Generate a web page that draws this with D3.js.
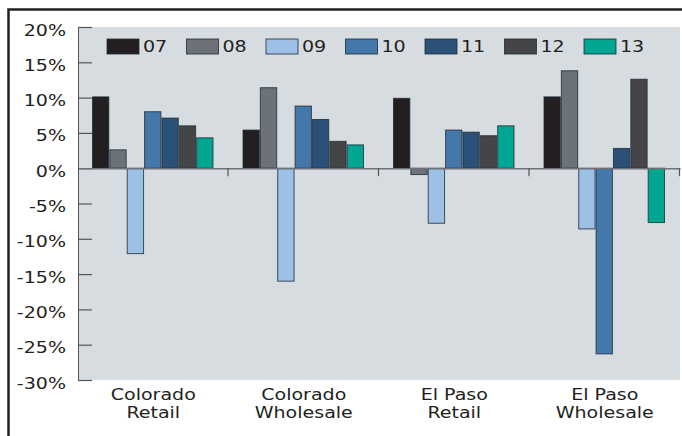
<!DOCTYPE html>
<html>
<head>
<meta charset="utf-8">
<script src="https://cdn.jsdelivr.net/npm/d3@7"></script>
<style>
  body { margin: 0; background: #fff; }
  text { font-family: "DejaVu Sans", sans-serif; fill: #231f20; }
</style>
</head>
<body>
<div id="chart"></div>
<script>
var categories = [["Colorado", "Retail"], ["Colorado", "Wholesale"], ["El Paso", "Retail"], ["El Paso", "Wholesale"]];
var years = ["07", "08", "09", "10", "11", "12", "13"];
var yearColors = ["#231f20", "#6d7178", "#9dc0e6", "#4478ab", "#2b5179", "#454547", "#00a692"];
// one array per category, values in % for years 07..13
var coloradoRetail = [10.1, 2.6, -12.1, 8.0, 7.1, 6.0, 4.3];
var coloradoWholesale = [5.4, 11.4, -16.0, 8.8, 6.9, 3.8, 3.3];
var elPasoRetail = [9.9, -0.9, -7.8, 5.4, 5.1, 4.6, 6.0];
var elPasoWholesale = [10.1, 13.8, -8.6, -26.3, 2.8, 12.6, -7.7];
var yTicks = [20, 15, 10, 5, 0, -5, -10, -15, -20, -25, -30];

var chart = {
  width: 682,
  height: 436,
  top: 27,
  right: 2,
  bottom: 56,
  left: 78,
}

// the printed font is much wider than anything installed, so stretch it
var stretch = 1.27;

var series = [coloradoRetail, coloradoWholesale, elPasoRetail, elPasoWholesale];

var svg = d3.select("#chart")
  .append("svg")
  .attr("width", chart.width)
  .attr("height", chart.height);

/* outer frame */
svg.append("rect")
  .attr("x", 8.5)
  .attr("y", 9.5)
  .attr("width", 700)
  .attr("height", 460)
  .style("fill", "none")
  .style("stroke", "#231f20")
  .style("stroke-width", 2.5);

/* plot background */
svg.append("rect")
  .attr("x", chart.left)
  .attr("y", chart.top)
  .attr("width", chart.width - chart.left - chart.right)
  .attr("height", chart.height - chart.top - chart.bottom)
  .style("fill", "#d7dce0");

let y = d3.scaleLinear()
  .domain([-30, 20])
  .range([chart.height - chart.bottom, chart.top]);

let x0 = d3.scaleBand()
  .domain(d3.range(categories.length))
  .range([chart.left, chart.width - chart.right]);

let x1 = d3.scaleBand()
  .domain(years)
  .range([14.5, 135])
  .paddingInner(0.06);

/* y axis */
let yAxis = svg.append("g")
  .attr("transform", `translate(${chart.left}, 0)`)
  .call(d3.axisRight(y).tickValues(yTicks).tickSize(14).tickFormat(""));
yAxis.select(".domain").style("stroke", "#555");
yAxis.selectAll(".tick line").style("stroke", "#555").style("stroke-width", 1.2);

svg.append("g")
  .selectAll("text")
  .data(yTicks)
  .enter()
  .append("text")
  .attr("transform", (d) => `translate(66, ${y(d) + 8.5}) scale(${stretch}, 1)`)
  .attr("text-anchor", "end")
  .style("font-size", "15px")
  .text((d) => d + "%");

/* bars */
let groups = svg.append("g")
  .selectAll("g")
  .data(series)
  .enter()
  .append("g")
  .attr("transform", (d, i) => `translate(${x0(i)}, 0)`);

groups.selectAll("rect")
  .data((d) => d.map((v, j) => ({ year: years[j], value: v, color: yearColors[j] })))
  .enter()
  .append("rect")
  .attr("x", (d) => x1(d.year))
  .attr("y", (d) => y(Math.max(0, d.value)))
  .attr("width", x1.bandwidth())
  .attr("height", (d) => Math.abs(y(d.value) - y(0)))
  .style("fill", (d) => d.color)
  .style("stroke", "#1e2a36")
  .style("stroke-opacity", 0.8)
  .style("stroke-width", 1);

/* zero line with category boundary ticks */
let xAxis = svg.append("g")
  .attr("transform", `translate(0, ${y(0)})`)
  .call(d3.axisBottom(x0).tickValues([]).tickSizeOuter(0));
xAxis.select(".domain").style("stroke", "#6d7178").style("stroke-width", 1.5);

svg.append("g")
  .selectAll("line")
  .data(d3.range(1, categories.length + 1))
  .enter()
  .append("line")
  .attr("x1", (d) => x0.step() * d + chart.left - 0.5)
  .attr("x2", (d) => x0.step() * d + chart.left - 0.5)
  .attr("y1", y(0))
  .attr("y2", y(0) + 8)
  .style("stroke", "#555")
  .style("stroke-width", 1.2);

/* category labels, two lines each */
let catLabels = svg.append("g")
  .selectAll("text")
  .data(categories)
  .enter()
  .append("text")
  .attr("transform", (d, i) => `translate(${x0(i) + x0.bandwidth() / 2}, 400) scale(${stretch}, 1)`)
  .attr("text-anchor", "middle")
  .style("font-size", "15px");
catLabels.append("tspan")
  .attr("x", 0)
  .attr("y", 0)
  .text((d) => d[0]);
catLabels.append("tspan")
  .attr("x", 0)
  .attr("y", 18)
  .text((d) => d[1]);

/* legend */
let legend = svg.append("g")
  .selectAll("g")
  .data(years)
  .enter()
  .append("g")
  .attr("transform", (d, i) => `translate(${107 + i * 79.5}, 39)`);

legend.append("rect")
  .attr("width", 32)
  .attr("height", 15)
  .style("fill", (d, i) => yearColors[i])
  .style("stroke", "#1e2a36")
  .style("stroke-opacity", 0.8);

legend.append("text")
  .attr("transform", `translate(36, 13) scale(${stretch}, 1)`)
  .style("font-size", "15px")
  .text((d) => d);
</script>
</body>
</html>
